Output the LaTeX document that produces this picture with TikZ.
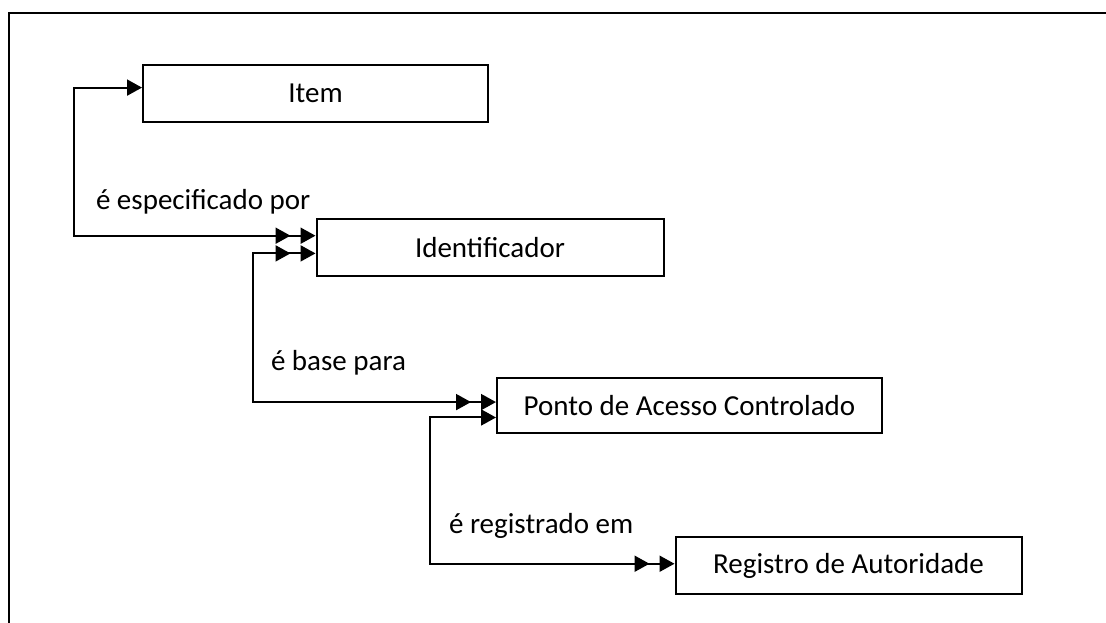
\documentclass[tikz,border=0pt]{standalone}
\usepackage{fontspec}
\setmainfont{Carlito}
\usetikzlibrary{arrows.meta,positioning,calc,decorations.markings}

\begin{document}
\begin{tikzpicture}[
    x=1pt, y=-1pt,
    line width=2pt,
    >={Triangle[length=15pt,width=16pt]},
    every node/.style={font=\fontsize{29}{34}\selectfont},
    box/.style={draw, line width=2pt, minimum width=346pt, minimum height=57pt, inner sep=0pt},
    lbl/.style={anchor=base west, inner sep=0pt},
    twoend/.style={postaction={decorate, decoration={markings, mark=at position -25pt with {\arrow{>}}}}},
    twostart/.style={postaction={decorate, decoration={markings, mark=at position 25pt with {\arrowreversed{>}}}}}
  ]
    \useasboundingbox (0,0) rectangle (1106,623);
    \draw (8.5,623) |- (1106,12.7);

    \node[box, minimum width=345pt] (item) at (315.5,93.5) {Item};
    \node[box, anchor=north west, minimum width=347pt] (ident) at ([yshift=-95pt]item.south) {Identificador};
    \node[box, anchor=north west, minimum width=385pt, minimum height=55pt] (ponto) at ([xshift=6pt,yshift=-100pt]ident.south) {Ponto de Acesso Controlado};
    \node[box, anchor=north west] (reg) at ([xshift=-15pt,yshift=-102pt]ponto.south) {Registro de Autoridade};

    \node[lbl] (lspec) at (95,209) {é especificado por};
    \node[lbl] (lbase) at (270,370) {é base para};
    \node[lbl] (lreg) at (448,533) {é registrado em};

    \draw[<->, twoend] ($(item.north west)!0.4!(item.south west)$) -- ++(-68,0) |- ($(ident.north west)!0.3!(ident.south west)$);
    \draw[<->, twostart, twoend] ($(ident.north west)!0.6!(ident.south west)$) -- ++(-63,0) |- ($(ponto.north west)!0.44!(ponto.south west)$);
    \draw[<->, twoend] ($(ponto.north west)!0.71!(ponto.south west)$) -- ++(-66,0) |- ($(reg.north west)!0.47!(reg.south west)$);
  \end{tikzpicture}
\end{document}
